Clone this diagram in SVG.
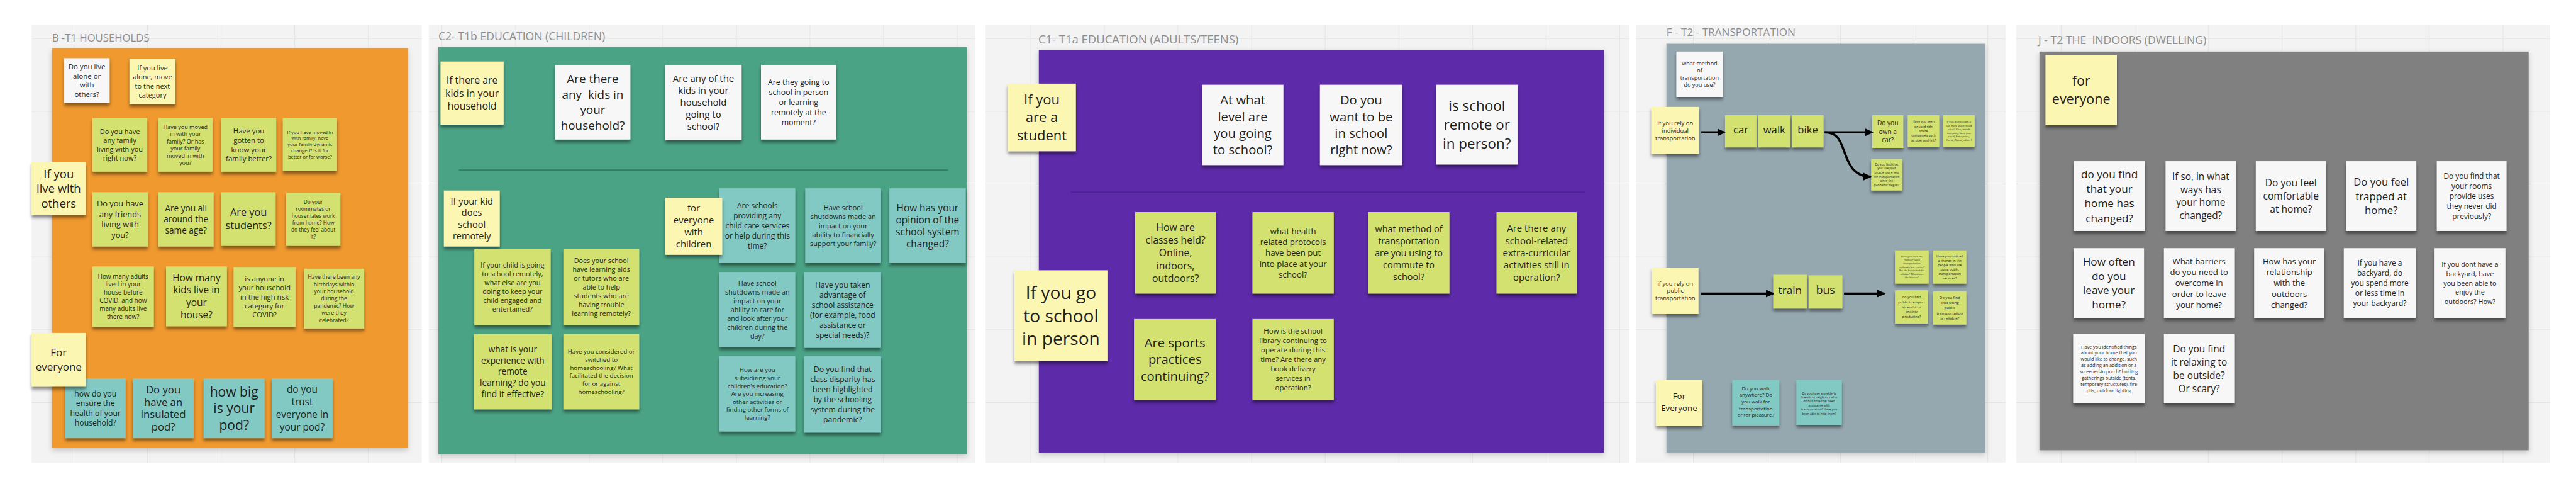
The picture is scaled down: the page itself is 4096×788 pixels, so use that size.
<svg xmlns="http://www.w3.org/2000/svg" width="4096" height="788" viewBox="0 0 4096 788">
<defs>
<style>
.cv{fill:#F3F3F3}
.gr{fill:url(#grid)}
.ttl{font-family:'Open Sans','Liberation Sans',sans-serif;fill:#8E8E8E}
.t{font-family:'Open Sans','Liberation Sans',sans-serif;fill:#1E1E1E;text-anchor:middle}
.w{fill:#F7F7F8;filter:url(#sh)}
.y{fill:#FCF6B3;filter:url(#sh)}
.g{fill:#D3E16F;filter:url(#sh)}
.c{fill:#82C9C3;filter:url(#sh)}
.pn{filter:url(#psh)}
.arr{stroke:#000;stroke-width:4;fill:none;marker-end:url(#ah)}
</style>
<filter id="sh" x="-15%" y="-15%" width="130%" height="140%"><feDropShadow dx="0" dy="5" stdDeviation="3" flood-color="#000" flood-opacity="0.45"/></filter>
<filter id="psh" x="-5%" y="-5%" width="110%" height="110%"><feDropShadow dx="0" dy="4" stdDeviation="5" flood-color="#000" flood-opacity="0.2"/></filter>
<pattern id="grid" patternUnits="userSpaceOnUse" x="0" y="69" width="133" height="131.4"><path d="M0,0H133M0,0V131.4" stroke="#E3E3E3" stroke-width="2" fill="none"/></pattern>
<marker id="ah" markerUnits="userSpaceOnUse" markerWidth="16" markerHeight="16" refX="13" refY="8" orient="auto"><path d="M0,1L15,8L0,15z" fill="#000"/></marker>
</defs>
<rect width="4096" height="788" fill="#FFFFFF"/>
<g transform="scale(0.88)">
<g id="canvases">
<rect class="cv" x="57" y="45" width="705" height="791"/><rect class="gr" x="57" y="45" width="705" height="791"/>
<rect class="cv" x="775" y="45" width="987" height="791"/><rect class="gr" x="775" y="45" width="987" height="791"/>
<rect class="cv" x="1781" y="45" width="1163" height="791"/><rect class="gr" x="1781" y="45" width="1163" height="791"/>
<rect class="cv" x="2956" y="45" width="668" height="790"/><rect class="gr" x="2956" y="45" width="668" height="790"/>
<rect class="cv" x="3643" y="45" width="965" height="791"/><rect class="gr" x="3643" y="45" width="965" height="791"/>
</g>
<g id="panel-households">
<text class="ttl" x="94" y="75" font-size="19">B -T1 HOUSEHOLDS</text>
<rect class="pn" x="94" y="87" width="643" height="722" fill="#EF992F"/>
</g>
<g id="panel-children">
<text class="ttl" x="792" y="73" font-size="20">C2- T1b EDUCATION (CHILDREN)</text>
<rect class="pn" x="792" y="85" width="955" height="735" fill="#4BA386"/>
<line x1="829" y1="307" x2="1713" y2="307" stroke="#327B64" stroke-width="2"/>
</g>
<g id="panel-adults">
<text class="ttl" x="1876" y="78" font-size="21">C1- T1a EDUCATION (ADULTS/TEENS)</text>
<rect class="pn" x="1877" y="90" width="1021" height="727" fill="#5D2CA9"/>
<line x1="1935" y1="347" x2="2863" y2="347" stroke="#4A2090" stroke-width="2"/>
</g>
<g id="panel-transport">
<text class="ttl" x="3011" y="65" font-size="19.5">F - T2 - TRANSPORTATION</text>
<rect class="pn" x="3011" y="79" width="576" height="738" fill="#96A8AF"/>
</g>
<g id="panel-indoors">
<text class="ttl" x="3683" y="80" font-size="20" xml:space="preserve">J - T2 THE  INDOORS (DWELLING)</text>
<rect class="pn" x="3685" y="93" width="884" height="720" fill="#808080"/>
</g>

<g id="s1"><rect class="w" x="116" y="105" width="82" height="81"/><text class="t" font-size="13"><tspan x="157" y="125.1">Do you live</tspan><tspan x="157" y="141.8">alone or</tspan><tspan x="157" y="158.5">with</tspan><tspan x="157" y="175.2">others?</tspan></text></g>
<g id="s2"><rect class="y" x="234" y="106" width="83" height="82"/><text class="t" font-size="12.5"><tspan x="275.5" y="127.1">If you live</tspan><tspan x="275.5" y="143.4">alone, move</tspan><tspan x="275.5" y="159.7">to the next</tspan><tspan x="275.5" y="176">category</tspan></text></g>
<g id="s3"><rect class="g" x="167" y="213" width="99" height="97"/><text class="t" font-size="12.5"><tspan x="216.5" y="242.5">Do you have</tspan><tspan x="216.5" y="258.2">any family</tspan><tspan x="216.5" y="273.9">living with you</tspan><tspan x="216.5" y="289.6">right now?</tspan></text></g>
<g id="s4"><rect class="g" x="286" y="213" width="98" height="97"/><text class="t" font-size="10.3"><tspan x="335" y="232.7">Have you moved</tspan><tspan x="335" y="245.7">in with your</tspan><tspan x="335" y="258.7">family? Or has</tspan><tspan x="335" y="271.7">your family</tspan><tspan x="335" y="284.7">moved in with</tspan><tspan x="335" y="297.7">you?</tspan></text></g>
<g id="s5"><rect class="g" x="400" y="213" width="99" height="97"/><text class="t" font-size="13"><tspan x="449.5" y="241.2">Have you</tspan><tspan x="449.5" y="257.9">gotten to</tspan><tspan x="449.5" y="274.6">know your</tspan><tspan x="449.5" y="291.3">family better?</tspan></text></g>
<g id="s6"><rect class="g" x="511" y="213" width="98" height="96"/><text class="t" font-size="8.6"><tspan x="560" y="241.5">If you have moved in</tspan><tspan x="560" y="252.8">with family, have</tspan><tspan x="560" y="264.1">your family dynamic</tspan><tspan x="560" y="275.4">changed? Is it for</tspan><tspan x="560" y="286.7">better or for worse?</tspan></text></g>
<g id="s8"><rect class="g" x="167" y="347" width="100" height="98"/><text class="t" font-size="14.5"><tspan x="217" y="372.7">Do you have</tspan><tspan x="217" y="391.7">any friends</tspan><tspan x="217" y="410.7">living with</tspan><tspan x="217" y="429.7">you?</tspan></text></g>
<g id="s9"><rect class="g" x="286" y="347" width="100" height="98"/><text class="t" font-size="15.5"><tspan x="336" y="381.6">Are you all</tspan><tspan x="336" y="401.6">around the</tspan><tspan x="336" y="421.6">same age?</tspan></text></g>
<g id="s10"><rect class="g" x="400" y="347" width="98" height="97"/><text class="t" font-size="18.5"><tspan x="449" y="390.2">Are you</tspan><tspan x="449" y="414.2">students?</tspan></text></g>
<g id="s11"><rect class="g" x="517" y="348" width="98" height="96"/><text class="t" font-size="9.4"><tspan x="566" y="367.7">Do your</tspan><tspan x="566" y="380.4">roommates or</tspan><tspan x="566" y="393.1">housemates work</tspan><tspan x="566" y="405.8">from home? How</tspan><tspan x="566" y="418.5">do they feel about</tspan><tspan x="566" y="431.2">it?</tspan></text></g>
<g id="s7"><rect class="y" x="57" y="293" width="98" height="95"/><text class="t" font-size="21"><tspan x="106" y="321.1">If you</tspan><tspan x="106" y="348.1">live with</tspan><tspan x="106" y="375.1">others</tspan></text></g>
<g id="s12"><rect class="g" x="167" y="481" width="111" height="109"/><text class="t" font-size="11.3"><tspan x="222.5" y="502.9">How many adults</tspan><tspan x="222.5" y="517.6">lived in your</tspan><tspan x="222.5" y="532.3">house before</tspan><tspan x="222.5" y="547">COVID, and how</tspan><tspan x="222.5" y="561.7">many adults live</tspan><tspan x="222.5" y="576.4">there now?</tspan></text></g>
<g id="s13"><rect class="g" x="300" y="481" width="110" height="108"/><text class="t" font-size="17.5"><tspan x="355" y="507.6">How many</tspan><tspan x="355" y="530.1">kids live in</tspan><tspan x="355" y="552.6">your</tspan><tspan x="355" y="575.1">house?</tspan></text></g>
<g id="s14"><rect class="g" x="422" y="482" width="112" height="108"/><text class="t" font-size="12.8"><tspan x="478" y="508">is anyone in</tspan><tspan x="478" y="524.3">your household</tspan><tspan x="478" y="540.6">in the high risk</tspan><tspan x="478" y="556.9">category for</tspan><tspan x="478" y="573.2">COVID?</tspan></text></g>
<g id="s15"><rect class="g" x="549" y="485" width="109" height="108"/><text class="t" font-size="9.8"><tspan x="603.5" y="503.5">Have there been any</tspan><tspan x="603.5" y="516.5">birthdays within</tspan><tspan x="603.5" y="529.5">your household</tspan><tspan x="603.5" y="542.5">during the</tspan><tspan x="603.5" y="555.5">pandemic? How</tspan><tspan x="603.5" y="568.5">were they</tspan><tspan x="603.5" y="581.5">celebrated?</tspan></text></g>
<g id="s17"><rect class="c" x="118" y="683" width="109" height="108"/><text class="t" font-size="14"><tspan x="172.5" y="715.5">how do you</tspan><tspan x="172.5" y="733.2">ensure the</tspan><tspan x="172.5" y="750.9">health of your</tspan><tspan x="172.5" y="768.6">household?</tspan></text></g>
<g id="s18"><rect class="c" x="240" y="683" width="110" height="108"/><text class="t" font-size="19"><tspan x="295" y="710">Do you</tspan><tspan x="295" y="732.5">have an</tspan><tspan x="295" y="755">insulated</tspan><tspan x="295" y="777.5">pod?</tspan></text></g>
<g id="s19"><rect class="c" x="368" y="683" width="110" height="108"/><text class="t" font-size="24"><tspan x="423" y="715.6">how big</tspan><tspan x="423" y="745.6">is your</tspan><tspan x="423" y="775.6">pod?</tspan></text></g>
<g id="s20"><rect class="c" x="491" y="683" width="110" height="108"/><text class="t" font-size="17.5"><tspan x="546" y="709.3">do you</tspan><tspan x="546" y="732">trust</tspan><tspan x="546" y="754.7">everyone in</tspan><tspan x="546" y="777.4">your pod?</tspan></text></g>
<g id="s16"><rect class="y" x="57" y="601" width="98" height="97"/><text class="t" font-size="19.3"><tspan x="106" y="643.4">For</tspan><tspan x="106" y="669.4">everyone</tspan></text></g>

<g id="t1"><rect class="y" x="796" y="111" width="114" height="114"/><text class="t" font-size="18"><tspan x="853" y="151.5">If there are</tspan><tspan x="853" y="174.5">kids in your</tspan><tspan x="853" y="197.5">household</tspan></text></g>
<g id="t2"><rect class="w" x="1003" y="117" width="136" height="135"/><text class="t" font-size="21.5" xml:space="preserve"><tspan x="1071" y="150.2">Are there</tspan><tspan x="1071" y="178.2">any  kids in</tspan><tspan x="1071" y="206.2">your</tspan><tspan x="1071" y="234.2">household?</tspan></text></g>
<g id="t3"><rect class="w" x="1202" y="117" width="138" height="136"/><text class="t" font-size="17"><tspan x="1271" y="147.7">Are any of the</tspan><tspan x="1271" y="169.4">kids in your</tspan><tspan x="1271" y="191.1">household</tspan><tspan x="1271" y="212.8">going to</tspan><tspan x="1271" y="234.5">school?</tspan></text></g>
<g id="t4"><rect class="w" x="1375" y="117" width="136" height="135"/><text class="t" font-size="14"><tspan x="1443" y="152.9">Are they going to</tspan><tspan x="1443" y="171.2">school in person</tspan><tspan x="1443" y="189.5">or learning</tspan><tspan x="1443" y="207.8">remotely at the</tspan><tspan x="1443" y="226.1">moment?</tspan></text></g>
<g id="t5"><rect class="y" x="802" y="344" width="101" height="101"/><text class="t" font-size="16.5"><tspan x="852.5" y="368.9">If your kid</tspan><tspan x="852.5" y="389.9">does</tspan><tspan x="852.5" y="410.9">school</tspan><tspan x="852.5" y="431.9">remotely</tspan></text></g>
<g id="t7"><rect class="c" x="1300" y="340" width="137" height="135"/><text class="t" font-size="13.7"><tspan x="1368.5" y="375.8">Are schools</tspan><tspan x="1368.5" y="394.1">providing any</tspan><tspan x="1368.5" y="412.4">child care services</tspan><tspan x="1368.5" y="430.7">or help during this</tspan><tspan x="1368.5" y="449">time?</tspan></text></g>
<g id="t8"><rect class="c" x="1455" y="340" width="137" height="135"/><text class="t" font-size="12.5"><tspan x="1523.5" y="379.4">Have school</tspan><tspan x="1523.5" y="395.7">shutdowns made an</tspan><tspan x="1523.5" y="412">impact on your</tspan><tspan x="1523.5" y="428.3">ability to financially</tspan><tspan x="1523.5" y="444.6">support your family?</tspan></text></g>
<g id="t9"><rect class="c" x="1607" y="340" width="138" height="135"/><text class="t" font-size="17.5"><tspan x="1676" y="381.6">How has your</tspan><tspan x="1676" y="403.1">opinion of the</tspan><tspan x="1676" y="424.6">school system</tspan><tspan x="1676" y="446.1">changed?</tspan></text></g>
<g id="t6"><rect class="y" x="1202" y="357" width="103" height="103"/><text class="t" font-size="17"><tspan x="1253.5" y="382">for</tspan><tspan x="1253.5" y="403.7">everyone</tspan><tspan x="1253.5" y="425.4">with</tspan><tspan x="1253.5" y="447.1">children</tspan></text></g>
<g id="t10"><rect class="g" x="857" y="450" width="138" height="137"/><text class="t" font-size="12.4"><tspan x="926" y="483">If your child is going</tspan><tspan x="926" y="499">to school remotely,</tspan><tspan x="926" y="515">what else are you</tspan><tspan x="926" y="531">doing to keep your</tspan><tspan x="926" y="547">child engaged and</tspan><tspan x="926" y="563">entertained?</tspan></text></g>
<g id="t11"><rect class="g" x="1018" y="450" width="137" height="137"/><text class="t" font-size="12.3"><tspan x="1086.5" y="474.9">Does your school</tspan><tspan x="1086.5" y="490.9">have learning aids</tspan><tspan x="1086.5" y="506.9">or tutors who are</tspan><tspan x="1086.5" y="522.9">able to help</tspan><tspan x="1086.5" y="538.9">students who are</tspan><tspan x="1086.5" y="554.9">having trouble</tspan><tspan x="1086.5" y="570.9">learning remotely?</tspan></text></g>
<g id="t12"><rect class="g" x="856" y="603" width="141" height="136"/><text class="t" font-size="15.5"><tspan x="926.5" y="636">what is your</tspan><tspan x="926.5" y="656.3">experience with</tspan><tspan x="926.5" y="676.6">remote</tspan><tspan x="926.5" y="696.9">learning? do you</tspan><tspan x="926.5" y="717.2">find it effective?</tspan></text></g>
<g id="t13"><rect class="g" x="1018" y="603" width="137" height="136"/><text class="t" font-size="11"><tspan x="1086.5" y="638.8">Have you considered or</tspan><tspan x="1086.5" y="653.3">switched to</tspan><tspan x="1086.5" y="667.8">homeschooling? What</tspan><tspan x="1086.5" y="682.3">facilitated the decision</tspan><tspan x="1086.5" y="696.8">for or against</tspan><tspan x="1086.5" y="711.3">homeschooling?</tspan></text></g>
<g id="t14"><rect class="c" x="1300" y="491" width="137" height="136"/><text class="t" font-size="12.3"><tspan x="1368.5" y="515.4">Have school</tspan><tspan x="1368.5" y="531.4">shutdowns made an</tspan><tspan x="1368.5" y="547.4">impact on your</tspan><tspan x="1368.5" y="563.4">ability to care for</tspan><tspan x="1368.5" y="579.4">and look after your</tspan><tspan x="1368.5" y="595.4">children during the</tspan><tspan x="1368.5" y="611.4">day?</tspan></text></g>
<g id="t15"><rect class="c" x="1453" y="491" width="139" height="137"/><text class="t" font-size="13.8"><tspan x="1522.5" y="518.8">Have you taken</tspan><tspan x="1522.5" y="537.1">advantage of</tspan><tspan x="1522.5" y="555.4">school assistance</tspan><tspan x="1522.5" y="573.7">(for example, food</tspan><tspan x="1522.5" y="592">assistance or</tspan><tspan x="1522.5" y="610.3">special needs)?</tspan></text></g>
<g id="t16"><rect class="c" x="1300" y="643" width="137" height="136"/><text class="t" font-size="11"><tspan x="1368.5" y="672.1">How are you</tspan><tspan x="1368.5" y="686.4">subsidizing your</tspan><tspan x="1368.5" y="700.7">children's education?</tspan><tspan x="1368.5" y="715">Are you increasing</tspan><tspan x="1368.5" y="729.3">other activities or</tspan><tspan x="1368.5" y="743.6">finding other forms of</tspan><tspan x="1368.5" y="757.9">learning?</tspan></text></g>
<g id="t17"><rect class="c" x="1453" y="643" width="139" height="138"/><text class="t" font-size="13.9"><tspan x="1522.5" y="671.3">Do you find that</tspan><tspan x="1522.5" y="689.6">class disparity has</tspan><tspan x="1522.5" y="707.9">been highlighted</tspan><tspan x="1522.5" y="726.2">by the schooling</tspan><tspan x="1522.5" y="744.5">system during the</tspan><tspan x="1522.5" y="762.8">pandemic?</tspan></text></g>

<g id="u1"><rect class="y" x="1821" y="151" width="123" height="122"/><text class="t" font-size="25"><tspan x="1882.5" y="189">If you</tspan><tspan x="1882.5" y="221">are a</tspan><tspan x="1882.5" y="253">student</tspan></text></g>
<g id="u2"><rect class="w" x="2172" y="153" width="147" height="145"/><text class="t" font-size="23"><tspan x="2245.5" y="188.8">At what</tspan><tspan x="2245.5" y="218.8">level are</tspan><tspan x="2245.5" y="248.8">you going</tspan><tspan x="2245.5" y="278.8">to school?</tspan></text></g>
<g id="u3"><rect class="w" x="2385" y="153" width="149" height="145"/><text class="t" font-size="23"><tspan x="2459.5" y="188.8">Do you</tspan><tspan x="2459.5" y="218.8">want to be</tspan><tspan x="2459.5" y="248.8">in school</tspan><tspan x="2459.5" y="278.8">right now?</tspan></text></g>
<g id="u4"><rect class="w" x="2595" y="153" width="147" height="144"/><text class="t" font-size="25.5"><tspan x="2668.5" y="200.2">is school</tspan><tspan x="2668.5" y="234.2">remote or</tspan><tspan x="2668.5" y="268.2">in person?</tspan></text></g>
<g id="u5"><rect class="g" x="2051" y="383" width="146" height="147"/><text class="t" font-size="18"><tspan x="2124" y="417">How are</tspan><tspan x="2124" y="440">classes held?</tspan><tspan x="2124" y="463">Online,</tspan><tspan x="2124" y="486">indoors,</tspan><tspan x="2124" y="509">outdoors?</tspan></text></g>
<g id="u6"><rect class="g" x="2263" y="383" width="147" height="147"/><text class="t" font-size="15"><tspan x="2336.5" y="422.9">what health</tspan><tspan x="2336.5" y="442.4">related protocols</tspan><tspan x="2336.5" y="461.9">have been put</tspan><tspan x="2336.5" y="481.4">into place at your</tspan><tspan x="2336.5" y="500.9">school?</tspan></text></g>
<g id="u7"><rect class="g" x="2472" y="383" width="147" height="147"/><text class="t" font-size="16.4"><tspan x="2545.5" y="419">what method of</tspan><tspan x="2545.5" y="440.7">transportation</tspan><tspan x="2545.5" y="462.4">are you using to</tspan><tspan x="2545.5" y="484.1">commute to</tspan><tspan x="2545.5" y="505.8">school?</tspan></text></g>
<g id="u8"><rect class="g" x="2704" y="383" width="145" height="147"/><text class="t" font-size="17"><tspan x="2776.5" y="418.6">Are there any</tspan><tspan x="2776.5" y="440.6">school-related</tspan><tspan x="2776.5" y="462.6">extra-curricular</tspan><tspan x="2776.5" y="484.6">activities still in</tspan><tspan x="2776.5" y="506.6">operation?</tspan></text></g>
<g id="u9"><rect class="y" x="1833" y="488" width="168" height="164"/><text class="t" font-size="32"><tspan x="1917" y="540">If you go</tspan><tspan x="1917" y="581.5">to school</tspan><tspan x="1917" y="623">in person</tspan></text></g>
<g id="u10"><rect class="g" x="2049" y="576" width="148" height="146"/><text class="t" font-size="23"><tspan x="2123" y="627.3">Are sports</tspan><tspan x="2123" y="657.3">practices</tspan><tspan x="2123" y="687.3">continuing?</tspan></text></g>
<g id="u11"><rect class="g" x="2263" y="576" width="147" height="146"/><text class="t" font-size="13"><tspan x="2336.5" y="602.7">How is the school</tspan><tspan x="2336.5" y="619.7">library continuing to</tspan><tspan x="2336.5" y="636.7">operate during this</tspan><tspan x="2336.5" y="653.7">time? Are there any</tspan><tspan x="2336.5" y="670.7">book delivery</tspan><tspan x="2336.5" y="687.7">services in</tspan><tspan x="2336.5" y="704.7">operation?</tspan></text></g>

<g id="v1"><rect class="w" x="3029" y="93" width="84" height="82"/><text class="t" font-size="10.3"><tspan x="3071" y="118.2">what method</tspan><tspan x="3071" y="131.2">of</tspan><tspan x="3071" y="144.2">transportation</tspan><tspan x="3071" y="157.2">do you use?</tspan></text></g>
<g id="v2"><rect class="y" x="2984" y="193" width="86" height="85"/><text class="t" font-size="10.7"><tspan x="3027" y="225.7">If you rely on</tspan><tspan x="3027" y="239.4">individual</tspan><tspan x="3027" y="253.1">transportation</tspan></text></g>
<g id="v3"><rect class="g" x="3117" y="208" width="57" height="58"/><text class="t" font-size="19" x="3145.5" y="241">car</text></g>
<g id="v4"><rect class="g" x="3177" y="208" width="58" height="58"/><text class="t" font-size="19" x="3206" y="241">walk</text></g>
<g id="v5"><rect class="g" x="3238" y="208" width="57" height="58"/><text class="t" font-size="19" x="3266.5" y="241">bike</text></g>
<g id="v6"><rect class="g" x="3383" y="208" width="56" height="59"/><text class="t" font-size="11.5"><tspan x="3411" y="225.9">Do you</tspan><tspan x="3411" y="241.6">own a</tspan><tspan x="3411" y="257.3">car?</tspan></text></g>
<g id="v7"><rect class="g" x="3447" y="208" width="57" height="57"/><text class="t" font-size="5.8"><tspan x="3475.5" y="222">Have you seen</tspan><tspan x="3475.5" y="230.3">or used ride</tspan><tspan x="3475.5" y="238.6">share</tspan><tspan x="3475.5" y="246.9">companies such</tspan><tspan x="3475.5" y="255.2">as uber and lyft?</tspan></text></g>
<g id="v8"><rect class="g" x="3511" y="208" width="57" height="57"/><text class="t" font-size="4.9"><tspan x="3539.5" y="221.8">If you do not own a</tspan><tspan x="3539.5" y="228.4">car, have you rented</tspan><tspan x="3539.5" y="235">a car? If so, which</tspan><tspan x="3539.5" y="241.6">company have you</tspan><tspan x="3539.5" y="248.2">used, Enterprise,</tspan><tspan x="3539.5" y="254.8">Hertz, Zipcar, other?</tspan></text></g>
<g id="v9"><rect class="g" x="3381" y="287" width="56" height="57"/><text class="t" font-size="5.6"><tspan x="3409" y="298.5">Do you find that</tspan><tspan x="3409" y="306.1">you use your</tspan><tspan x="3409" y="313.7">bicycle more less</tspan><tspan x="3409" y="321.3">for transportation</tspan><tspan x="3409" y="328.9">since the</tspan><tspan x="3409" y="336.5">pandemic began?</tspan></text></g>
<g id="v10"><rect class="y" x="2985" y="483" width="84" height="84"/><text class="t" font-size="10.7"><tspan x="3027" y="515.6">if you rely on</tspan><tspan x="3027" y="528.9">public</tspan><tspan x="3027" y="542.2">transportation</tspan></text></g>
<g id="v11"><rect class="g" x="3204" y="496" width="61" height="61"/><text class="t" font-size="19.5" x="3234.5" y="531">train</text></g>
<g id="v12"><rect class="g" x="3268" y="497" width="61" height="60"/><text class="t" font-size="20" x="3298.5" y="531">bus</text></g>
<g id="v13"><rect class="g" x="3424" y="452" width="61" height="60"/><text class="t" font-size="4.5"><tspan x="3454.5" y="464.7">Have you used the</tspan><tspan x="3454.5" y="471">Pioneer Valley</tspan><tspan x="3454.5" y="477.3">transportation</tspan><tspan x="3454.5" y="483.6">authority bus service?</tspan><tspan x="3454.5" y="489.9">Are the bus schedules</tspan><tspan x="3454.5" y="496.2">reliable? Who drives</tspan><tspan x="3454.5" y="502.5">the busses?</tspan></text></g>
<g id="v14"><rect class="g" x="3493" y="452" width="60" height="60"/><text class="t" font-size="6"><tspan x="3523" y="464.5">Have you noticed</tspan><tspan x="3523" y="472.4">a change in the</tspan><tspan x="3523" y="480.3">people who are</tspan><tspan x="3523" y="488.2">using public</tspan><tspan x="3523" y="496.1">transportation</tspan><tspan x="3523" y="504">services?</tspan></text></g>
<g id="v15"><rect class="g" x="3424" y="524" width="60" height="60"/><text class="t" font-size="6.5"><tspan x="3454" y="538.3">do you find</tspan><tspan x="3454" y="547.3">public transport</tspan><tspan x="3454" y="556.3">stressful or</tspan><tspan x="3454" y="565.3">anxiety</tspan><tspan x="3454" y="574.3">producing?</tspan></text></g>
<g id="v16"><rect class="g" x="3493" y="526" width="60" height="60"/><text class="t" font-size="7"><tspan x="3523" y="539.5">Do you find</tspan><tspan x="3523" y="549">that using</tspan><tspan x="3523" y="558.5">public</tspan><tspan x="3523" y="568">transportation</tspan><tspan x="3523" y="577.5">is reliable?</tspan></text></g>
<g id="v17"><rect class="y" x="2992" y="686" width="84" height="83"/><text class="t" font-size="15.2"><tspan x="3034" y="721">For</tspan><tspan x="3034" y="742">Everyone</tspan></text></g>
<g id="v18"><rect class="c" x="3130" y="686" width="85" height="82"/><text class="t" font-size="9"><tspan x="3172.5" y="704">Do you walk</tspan><tspan x="3172.5" y="716.2">anywhere? Do</tspan><tspan x="3172.5" y="728.4">you walk for</tspan><tspan x="3172.5" y="740.6">transportation</tspan><tspan x="3172.5" y="752.8">or for pleasure?</tspan></text></g>
<g id="v19"><rect class="c" x="3246" y="686" width="82" height="81"/><text class="t" font-size="5.5"><tspan x="3287" y="712">Do you have any elderly</tspan><tspan x="3287" y="719.3">friends or neighbors who</tspan><tspan x="3287" y="726.6">do not drive that need</tspan><tspan x="3287" y="733.9">assistance with</tspan><tspan x="3287" y="741.2">transportation? Have you</tspan><tspan x="3287" y="748.5">been able to help them?</tspan></text></g>

<g id="w1"><rect class="y" x="3696" y="99" width="129" height="127"/><text class="t" font-size="24.5"><tspan x="3760.5" y="154.8">for</tspan><tspan x="3760.5" y="187.8">everyone</tspan></text></g>
<g id="w2"><rect class="w" x="3747" y="291" width="129" height="126"/><text class="t" font-size="19.5"><tspan x="3811.5" y="321.3">do you find</tspan><tspan x="3811.5" y="347.8">that your</tspan><tspan x="3811.5" y="374.3">home has</tspan><tspan x="3811.5" y="400.8">changed?</tspan></text></g>
<g id="w3"><rect class="w" x="3913" y="291" width="127" height="126"/><text class="t" font-size="17.5"><tspan x="3976.5" y="325">If so, in what</tspan><tspan x="3976.5" y="348.5">ways has</tspan><tspan x="3976.5" y="372">your home</tspan><tspan x="3976.5" y="395.5">changed?</tspan></text></g>
<g id="w4"><rect class="w" x="4076" y="291" width="127" height="126"/><text class="t" font-size="17.7"><tspan x="4139.5" y="336.4">Do you feel</tspan><tspan x="4139.5" y="360.4">comfortable</tspan><tspan x="4139.5" y="384.4">at home?</tspan></text></g>
<g id="w5"><rect class="w" x="4239" y="291" width="127" height="126"/><text class="t" font-size="19"><tspan x="4302.5" y="335.1">Do you feel</tspan><tspan x="4302.5" y="360.8">trapped at</tspan><tspan x="4302.5" y="386.5">home?</tspan></text></g>
<g id="w6"><rect class="w" x="4403" y="291" width="126" height="126"/><text class="t" font-size="13.5"><tspan x="4466" y="322.3">Do you find that</tspan><tspan x="4466" y="340.6">your rooms</tspan><tspan x="4466" y="358.9">provide uses</tspan><tspan x="4466" y="377.2">they never did</tspan><tspan x="4466" y="395.5">previously?</tspan></text></g>
<g id="w7"><rect class="w" x="3747" y="448" width="127" height="126"/><text class="t" font-size="19.5"><tspan x="3810.5" y="479.5">How often</tspan><tspan x="3810.5" y="505.2">do you</tspan><tspan x="3810.5" y="530.9">leave your</tspan><tspan x="3810.5" y="556.6">home?</tspan></text></g>
<g id="w8"><rect class="w" x="3910" y="448" width="127" height="126"/><text class="t" font-size="15"><tspan x="3973.5" y="477">What barriers</tspan><tspan x="3973.5" y="496.7">do you need to</tspan><tspan x="3973.5" y="516.4">overcome in</tspan><tspan x="3973.5" y="536.1">order to leave</tspan><tspan x="3973.5" y="555.8">your home?</tspan></text></g>
<g id="w9"><rect class="w" x="4073" y="448" width="127" height="126"/><text class="t" font-size="15"><tspan x="4136.5" y="477">How has your</tspan><tspan x="4136.5" y="496.7">relationship</tspan><tspan x="4136.5" y="516.4">with the</tspan><tspan x="4136.5" y="536.1">outdoors</tspan><tspan x="4136.5" y="555.8">changed?</tspan></text></g>
<g id="w10"><rect class="w" x="4235" y="448" width="130" height="126"/><text class="t" font-size="13.7"><tspan x="4300" y="479.3">If you have a</tspan><tspan x="4300" y="497.6">backyard, do</tspan><tspan x="4300" y="515.9">you spend more</tspan><tspan x="4300" y="534.2">or less time in</tspan><tspan x="4300" y="552.5">your backyard?</tspan></text></g>
<g id="w11"><rect class="w" x="4399" y="448" width="128" height="126"/><text class="t" font-size="12.3"><tspan x="4463" y="482">If you dont have a</tspan><tspan x="4463" y="498.7">backyard, have</tspan><tspan x="4463" y="515.4">you been able to</tspan><tspan x="4463" y="532.1">enjoy the</tspan><tspan x="4463" y="548.8">outdoors? How?</tspan></text></g>
<g id="w12"><rect class="w" x="3746" y="603" width="129" height="125"/><text class="t" font-size="8.3"><tspan x="3810.5" y="629">Have you identified things</tspan><tspan x="3810.5" y="640.3">about your home that you</tspan><tspan x="3810.5" y="651.6">would like to change, such</tspan><tspan x="3810.5" y="662.9">as adding an addition or a</tspan><tspan x="3810.5" y="674.2">screened-in porch? holding</tspan><tspan x="3810.5" y="685.5">gatherings outside (tents,</tspan><tspan x="3810.5" y="696.8">temporary structures), fire</tspan><tspan x="3810.5" y="708.1">pits, outdoor lighting</tspan></text></g>
<g id="w13"><rect class="w" x="3910" y="603" width="127" height="125"/><text class="t" font-size="17.5"><tspan x="3973.5" y="635.8">Do you find</tspan><tspan x="3973.5" y="659.8">it relaxing to</tspan><tspan x="3973.5" y="683.8">be outside?</tspan><tspan x="3973.5" y="707.8">Or scary?</tspan></text></g>

<g id="connectors">
<line class="arr" x1="3074" y1="239" x2="3116" y2="239"/>
<line class="arr" x1="3297" y1="239" x2="3383" y2="239"/>
<path class="arr" d="M3297,239C3322,239 3326,256 3334,278S3352,319 3380,319"/>
<line class="arr" x1="3073" y1="530" x2="3204" y2="530"/>
<line class="arr" x1="3332" y1="530" x2="3405" y2="530"/>
</g>
</g>
</svg>
